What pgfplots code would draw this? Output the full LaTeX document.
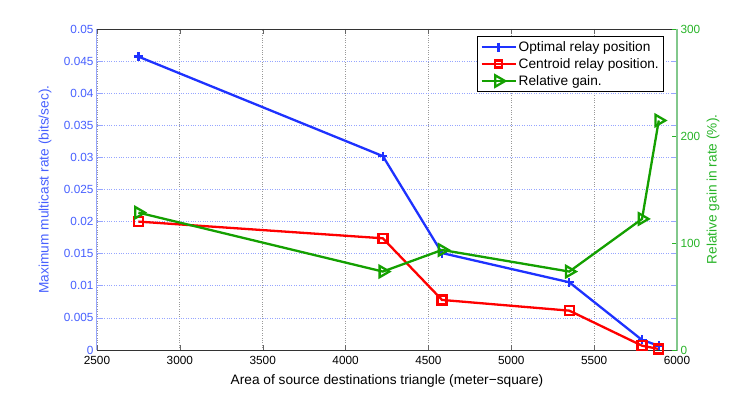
\documentclass[border=0pt]{standalone}
\usepackage{fontspec}
\setmainfont{Liberation Sans}
\usepackage{pgfplots}
\pgfplotsset{compat=1.18}
\usetikzlibrary{calc}

\definecolor{optblue}{RGB}{30,50,255}
\definecolor{cenred}{RGB}{255,0,0}
\definecolor{gaingreen}{RGB}{20,160,0}
\definecolor{lblblue}{RGB}{70,95,255}
\definecolor{axblue}{RGB}{150,165,255}
\definecolor{lblgreen}{RGB}{40,180,40}
\definecolor{axgreen}{RGB}{130,200,140}

\pgfplotsset{
  common/.style={
    scale only axis, width=580pt, height=321pt,
    at={(0pt,0pt)}, anchor=south west,
    xmin=2500, xmax=6000,
    tick align=inside, major tick length=5pt,
    /pgf/number format/assume math mode=true,
    ticklabel style={font=\fontsize{11.8}{13}\selectfont},
    legend image code/.code={\draw[mark repeat=2,mark phase=2] plot coordinates {(0pt,0pt)(17pt,0pt)(34pt,0pt)};},
  },
  plotline/.style={line width=2.3pt},
}

\begin{document}
\begin{tikzpicture}
\begin{axis}[common, name=main,
  ymin=0, ymax=0.05,
  xtick={2500,3000,3500,4000,4500,5000,5500,6000},
  ytick={0,0.005,0.01,0.015,0.02,0.025,0.03,0.035,0.04,0.045,0.05},
  scaled x ticks=false, scaled y ticks=false,
  xticklabel style={/pgf/number format/1000 sep={}, yshift=-3pt},
  yticklabel style={/pgf/number format/fixed, /pgf/number format/precision=3, text=lblblue},
  separate axis lines,
  x axis line style={black!80, line width=0.8pt},
  y axis line style={axblue, line width=1pt},
  xtick style={black!60},
  ytick style={axblue, line width=0.8pt},
  grid=major,
  x grid style={black!40, dotted, line width=0.8pt},
  y grid style={axblue, dotted, line width=0.8pt},
  every axis x label/.style={at={(axis description cs:0.5,-0.0966)},anchor=center,font=\fontsize{13.7}{16}\selectfont},
  every axis y label/.style={at={(axis description cs:-0.0897,0.5)},rotate=90,anchor=center,text=lblblue,font=\fontsize{13.7}{16}\selectfont},
  xlabel={Area of source destinations triangle (meter−square)},
  ylabel={Maximum multicast rate (bits/sec).},
]
\addplot[plotline, optblue, mark=+, mark size=4.5pt] coordinates {
  (2750,0.0457) (4225,0.0302) (4582,0.0151) (5350,0.01055) (5789,0.00156) (5890,0.00067)
};
\addplot[plotline, cenred, mark=square, mark size=4.5pt] coordinates {
  (2750,0.0200) (4225,0.0174) (4582,0.0078) (5350,0.00613) (5789,0.00067) (5890,0.00016)
};
\end{axis}
\begin{axis}[common,
  axis x line=none,
  axis y line*=right,
  ymin=0, ymax=300, ytick={0,100,200,300},
  y axis line style={axgreen, line width=1.2pt},
  ytick style={lblgreen, line width=0.8pt},
  yticklabel style={text=lblgreen},
  every axis y label/.style={at={(axis description cs:1.062,0.5)},rotate=90,anchor=center,text=lblgreen,font=\fontsize{13.7}{16}\selectfont},
  ylabel={Relative gain in rate (\%).},
  legend style={at={(0.978,0.978)}, anchor=north east, draw=black, line width=0.8pt, fill=white,
    font=\fontsize{13.7}{16}\selectfont, row sep=1.5pt, inner sep=3pt},
  legend cell align=left,
]
\addlegendimage{plotline, optblue, mark=+, mark size=4.5pt}
\addlegendentry{Optimal relay position}
\addlegendimage{plotline, cenred, mark=square, mark size=3.5pt}
\addlegendentry{Centroid relay position.}
\addplot[plotline, gaingreen, mark=triangle, mark size=6.5pt, mark options={rotate=-90}] coordinates {
  (2750,128.4) (4225,73.3) (4582,93.5) (5350,73.3) (5789,122.5) (5890,214.5)
};
\addlegendentry{Relative gain.}
\end{axis}
\pgfresetboundingbox
\path ($(main.south west)+(-97pt,-44pt)$) rectangle ($(main.north east)+(70pt,29pt)$);
\end{tikzpicture}
\end{document}
